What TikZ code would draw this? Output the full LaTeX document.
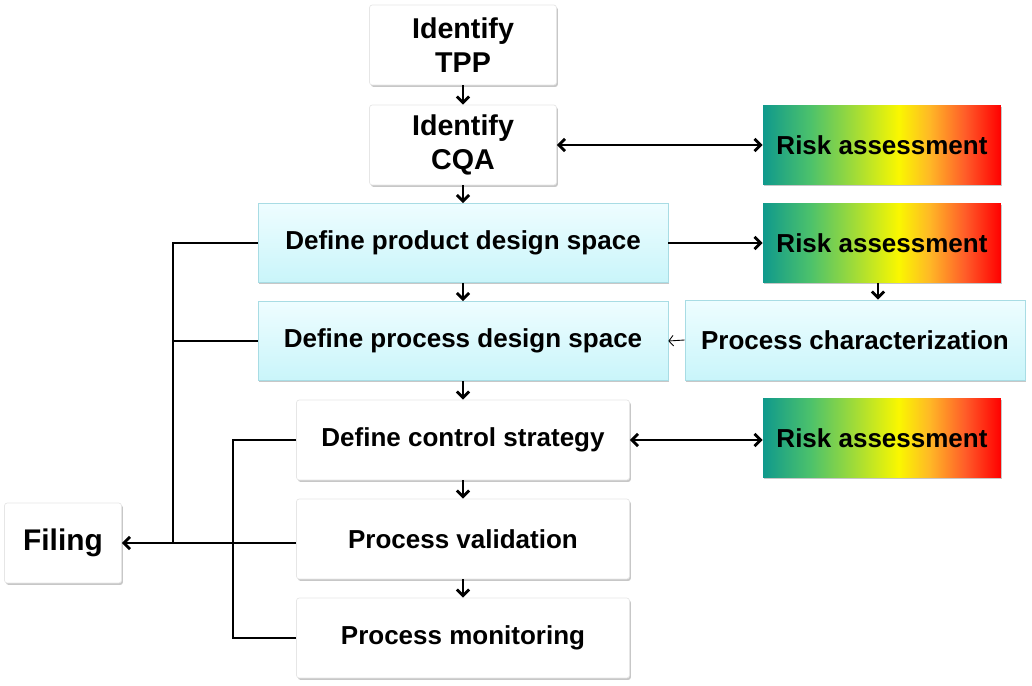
\documentclass[tikz,border=0pt]{standalone}
\usepackage{fontspec}
\setmainfont{Liberation Sans}
\usetikzlibrary{arrows.meta,shadows}
\definecolor{cyanfilltop}{HTML}{EEFDFF}
\definecolor{cyanfillbot}{HTML}{C9F5FA}
\definecolor{cyanline}{HTML}{A8DCE4}
\definecolor{whiteline}{HTML}{E6E6E6}
\pgfdeclarehorizontalshading{riskgrad}{100bp}{rgb(0bp)=(0.06,0.6,0.55); rgb(25bp)=(0.06,0.6,0.55); rgb(35bp)=(0.3,0.76,0.42); rgb(45bp)=(0.66,0.87,0.2); rgb(53.5bp)=(0.98,0.97,0); rgb(60bp)=(1,0.72,0.15); rgb(67.5bp)=(1,0.36,0.16); rgb(75bp)=(1,0,0); rgb(100bp)=(1,0,0)}
\tikzset{
  box/.style={rectangle, font=\bfseries\fontsize{14.8}{18.5}\selectfont, text=black, align=center, inner sep=0pt,
    drop shadow={shadow xshift=0.8pt, shadow yshift=-1.1pt, fill=black, opacity=0.22}},
  plainbox/.style={box, draw=whiteline, fill=white, rounded corners=1.5pt},
  bigtext/.style={font=\bfseries\fontsize{16.3}{19}\selectfont},
  designbox/.style={box, draw=cyanline, top color=cyanfilltop, bottom color=cyanfillbot},
  riskbox/.style={box, shading=riskgrad, minimum width=4.76cm, minimum height=1.58cm},
  line/.style={line width=1.6pt, black},
  arr/.style={line, -{Straight Barb[length=3.5pt,width=7pt]}},
  darr/.style={line, {Straight Barb[length=3.5pt,width=7pt]}-{Straight Barb[length=3.5pt,width=7pt]}},
  thinarr/.style={line width=0.5pt, -{Straight Barb[length=2.5pt,width=6pt]}}
}
\begin{document}
\begin{tikzpicture}[x=0.02cm,y=-0.02cm]
\useasboundingbox (0,0) rectangle (1032,686);
% main column
\node[plainbox, bigtext, minimum width=3.74cm, minimum height=1.6cm] (tpp) at (463,45) {Identify\\TPP};
\node[plainbox, bigtext, minimum width=3.74cm, minimum height=1.6cm] (cqa) at (463,145) {Identify\\CQA};
\node[designbox, minimum width=8.2cm, minimum height=1.58cm] (prd) at (463,243) {Define product design space};
\node[designbox, minimum width=8.2cm, minimum height=1.58cm] (prc) at (463,341) {Define process design space};
\node[plainbox, minimum width=6.66cm, minimum height=1.6cm] (ctl) at (463,440) {Define control strategy};
\node[plainbox, minimum width=6.66cm, minimum height=1.6cm] (val) at (463,539) {Process validation};
\node[plainbox, minimum width=6.66cm, minimum height=1.6cm] (mon) at (463,638) {Process monitoring};
\node[plainbox, font=\bfseries\fontsize{17}{20}\selectfont, minimum width=2.34cm, minimum height=1.6cm] (fil) at (63,543) {Filing};
% right column
\node[riskbox] (rk1) at (882,145) {Risk assessment};
\node[riskbox] (rk2) at (882,243) {Risk assessment};
\node[designbox, minimum width=6.8cm, minimum height=1.6cm] (chr) at (855,340) {Process characterization};
\node[riskbox] (rk3) at (882,438) {Risk assessment};
% arrows down the middle
\draw[arr] (tpp) -- (cqa);
\draw[arr] (cqa) -- (prd);
\draw[arr] (prd) -- (prc);
\draw[arr] (prc) -- (ctl);
\draw[arr] (ctl) -- (val);
\draw[arr] (val) -- (mon);
% risk links
\draw[darr] (cqa.east) -- (rk1.west);
\draw[arr] (prd.east) -- (rk2.west);
\draw[arr] (rk2.south -| 878,0) -- (chr.north -| 878,0);
\draw[thinarr] (chr.west) -- (prc.east);
\draw[darr] (ctl.east) -- (ctl.east -| rk3.west);
% filing
\coordinate (ltop) at (prd.west -| 173,0);
\coordinate (rtop) at (ctl.west -| 233,0);
\draw[line] (prd.west) -- (ltop) -- (ltop |- fil.east);
\draw[line] (prc.west) -- (prc.west -| ltop);
\draw[arr] (val.west |- fil.east) -- (fil.east);
\draw[line] (ctl.west) -- (rtop) |- (mon.west);
\end{tikzpicture}
\end{document}
